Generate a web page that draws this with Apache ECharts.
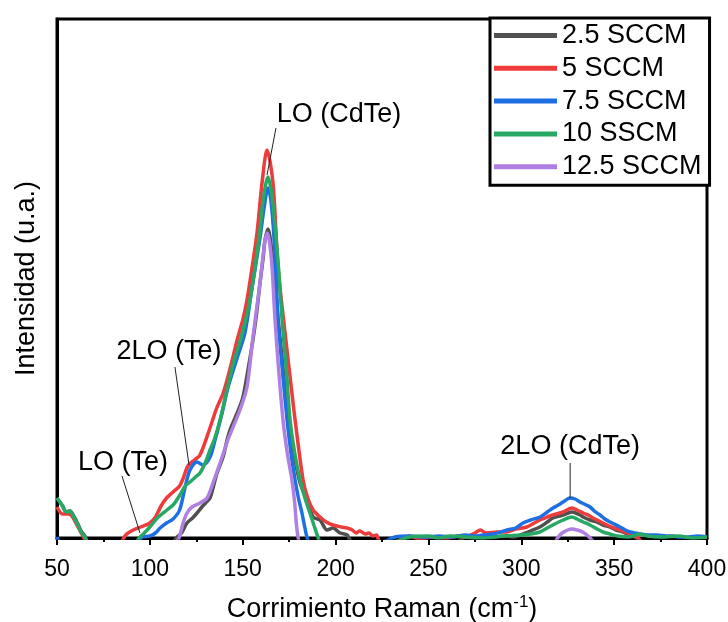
<!DOCTYPE html>
<html><head><meta charset="utf-8">
<script src="https://cdn.jsdelivr.net/npm/echarts@6/dist/echarts.min.js"></script>
<style>html,body{margin:0;padding:0;background:#fff}#c{width:728px;height:622px}</style>
</head><body><div id="c"></div><script>
// ---- data (Raman shift in cm^-1, intensity in arbitrary units) ----
const seriesNames = ['2.5 SCCM', '5 SCCM', '7.5 SCCM', '10 SSCM', '12.5 SCCM'];
const xTicks = [50, 100, 150, 200, 250, 300, 350, 400];

const x25 = [50,53,55,57,59,61,63,65,67,
  112,114.6,117,120,123,125.4,128,130,132.4,134,136.2,139.4,142,144,147,150,153,155.5,157.5,159.3,161,162,163.6,165.8,167.4,169,171.2,173,175.5,178,180.9,184.6,187.9,191.6,195.4,198.6,202.4,206.2,209,
  265,270,275,280,285,292,296,301,305,310,314,317,322.5,327.3,331.6,333.3,337,340.8,344,347.8,351,354.8,358,361,365];
const y25 = [40,32,26,27,22,15,7,2,-4,
  -4,1,5,15,20,25,31,35,40,50,65,81,101,112,125,140,170,198,225,255,280,298,309,285,255,220,180,145,110,80,55,38,21,18,8,10,5,3,-4,
  -4,1,0,2,1,2,1,4,7,11,16,20,23,26,23,21,18,16,13,11,8,6,3,1,-4];

const x5 = [50,53,56,58,61,64,66,
  84,87,90,95,100,103,106,109,112.5,116,118,120.5,124,127,132,136,139.5,143,147,150,152.3,155,157.7,160.4,163.1,166.3,169,172.8,176.5,178.2,182.5,185,187.9,191.6,195,198.6,203,206.2,209,211,213,216,218,220,222,224,
  232,240,245,252,260,266,270,275,278,281,287,292,297,303,307,310,314,317,322.5,327.3,330,333.3,337,338.6,342,346.2,350,353.2,356,358.6,362,365];
const y5 = [31,24,24,22,12,2,-4,
  -4,3,7,11,15,21,32,40,46,52,60,72,78,83,108,130,145,168,198,218,238,270,305,355,388,355,271,205,145,118,58,40,28,21,16,13,11,10,8,5,7,4,5,2,3,-4,
  -4,2,-1,1,0,2,1,5,8,5,6,6,9,11,15,18,21,23,26,30,28,25,22,20,17,13,10,8,6,4,1,-4];

const x75 = [50,52,
  93,96,100,103,105.5,109,112.5,116,119,121.6,125.4,128.6,132.4,135.1,138.9,142,147,151.2,155,159.3,161.5,163.6,165,166.5,168,169,171.5,173.9,176,178.2,180,181.9,183.5,184.6,186,
  225,232,240,248,256,263,270,275,279.4,285,289,292.3,297,300.9,305,310.1,314,317.1,320,322.5,326.3,329,331.6,335,337,340,342.4,345,347.8,350,353.2,356,358.6,361,363.9,368,373.1,378,381.7,385,390,395,400];
const y75 = [1,-4,
  -4,1,2,5,10,15,19,28,51,68,76,73,81,98,125,150,180,205,250,300,330,350,340,310,260,218,165,118,85,58,40,25,10,1,-4,
  -4,1,2,1,2,1,3,2,3,4,6,8,10,15,18,21,26,30,33,36,40,39,36,33,31,26,23,19,16,14,11,8,6,5,4,3,3,2,2,1,1,2,1];

const x10 = [50,53,55,57,59,61,63,65,67,
  92,94.7,97,100,104,109.2,112.5,116.2,119,121.6,124,127,130,132.4,135,137.8,140.5,145,149.1,153.9,158.8,161,163.6,165.5,167.5,169.5,171.2,173.5,175.5,178,180.9,183.5,186.2,188.5,190.5,192,
  230,240,250,255,262,270,280,290,300,305,310,314,317,322.5,327.3,330,333.3,337,340.8,344,347.8,352,358,364,368,375,385,392,400];
const y10 = [40,32,26,27,21,14,6,1,-4,
  -4,1,5,11,20,28,33,43,52,56,60,65,76,88,100,118,140,175,200,238,300,338,361,345,310,265,218,168,118,85,58,40,25,12,1,-4,
  -4,1,2,0,2,1,0,2,3,4,6,10,13,18,21,19,16,13,9,6,4,2,1,4,2,1,2,0,1];

const x125 = [114,115.7,117.9,120,122.7,127,130.8,134,137.8,142,148.5,152.3,155.5,159.3,162,163.3,164.5,165.8,167.4,169.5,171.7,174,176.5,178,178.7,179.8,181,
  318,319.5,322,325,327.3,330,333,336,337.5,339];
const y125 = [-4,0,15,25,31,35,40,55,75,98,128,151,201,255,298,305,295,271,218,165,118,85,58,35,18,1,-4,
  -4,0,5,8,9,8,6,2,-1,-4];

const seriesX = [x25, x5, x75, x10, x125];
const seriesY = [y25, y5, y75, y10, y125];
const seriesColors = ['#505050', '#ee3b3b', '#1d6fe3', '#28a865', '#b07fe2'];

// ---- annotations (data coordinates) ----
const annotations = [
  {text: 'LO (CdTe)',  at: [201.9, 423], line: [[167.9, 410], [163.1, 363]]},
  {text: '2LO (Te)',   at: [110.3, 186], line: [[113.5, 171], [121.1, 73]]},
  {text: 'LO (Te)',    at: [85.5, 75],   line: [[85.0, 62], [94.7, 5]]},
  {text: '2LO (CdTe)', at: [326.3, 91],  line: [[326.3, 75], [326.3, 40]]}
];

const FONT = '"Liberation Sans", Arial, sans-serif';
const chart = echarts.init(document.getElementById('c'), null, {renderer: 'canvas'});

const series = seriesNames.map((name, i) => ({
  name: name,
  type: 'line',
  data: seriesX[i].map((x, j) => [x, seriesY[i][j]]),
  showSymbol: false,
  symbol: 'none',
  smooth: 0.3,
  clip: true,
  lineStyle: {width: 3.5, color: seriesColors[i]},
  itemStyle: {color: seriesColors[i]},
  animation: false,
  z: 2 + i
}));

chart.setOption({
  animation: false,
  backgroundColor: '#fff',
  grid: {left: 57, right: 21, top: 19, bottom: 84, show: true, borderColor: '#000', borderWidth: 3,
    containLabel: false, outerBoundsMode: 'none'},
  legend: {
    orient: 'vertical', left: 490, top: 18,
    icon: 'rect',
    itemWidth: 63, itemHeight: 5, itemGap: 5.8,
    padding: [4, 8, 5, 4],
    borderColor: '#000', borderWidth: 3, backgroundColor: '#fff',
    textStyle: {fontSize: 27, lineHeight: 27, fontFamily: FONT, color: '#000'},
    data: seriesNames, z: 20
  },
  xAxis: {
    type: 'value', min: 50, max: 400, interval: 50,
    axisLine: {show: true, lineStyle: {color: '#000', width: 3}},
    axisTick: {show: true, inside: false, length: 7, lineStyle: {color: '#000', width: 2}},
    minorTick: {show: true, splitNumber: 2, length: 4, lineStyle: {color: '#000', width: 2}},
    splitLine: {show: false},
    axisLabel: {fontSize: 23, fontFamily: FONT, color: '#000', margin: 20,
      formatter: v => xTicks.includes(v) ? String(v) : ''},
    name: '{a|Corrimiento Raman (cm}{s|-1}{a|)}',
    nameLocation: 'middle', nameGap: 56,
    nameTextStyle: {rich: {
      a: {fontSize: 27, fontFamily: FONT, color: '#000'},
      s: {fontSize: 17, fontFamily: FONT, color: '#000', verticalAlign: 'top', padding: [0, 0, 14, 0]}
    }}
  },
  yAxis: {
    type: 'value', min: 0, max: 519,
    axisLine: {show: true, lineStyle: {color: '#000', width: 3}},
    axisTick: {show: false}, axisLabel: {show: false}, splitLine: {show: false},
    name: 'Intensidad (u.a.)', nameLocation: 'middle', nameGap: 17,
    nameTextStyle: {fontSize: 27, fontFamily: FONT, color: '#000'}
  },
  series: series
});

const graphics = [];
annotations.forEach(a => {
  const p = chart.convertToPixel({gridIndex: 0}, a.at);
  const l0 = chart.convertToPixel({gridIndex: 0}, a.line[0]);
  const l1 = chart.convertToPixel({gridIndex: 0}, a.line[1]);
  graphics.push({type: 'line', z: 50, silent: true,
    shape: {x1: l0[0], y1: l0[1], x2: l1[0], y2: l1[1]},
    style: {stroke: '#222', lineWidth: 1}});
  graphics.push({type: 'text', z: 50, silent: true, x: p[0], y: p[1],
    style: {text: a.text, fill: '#000', font: '27px ' + FONT, textAlign: 'center', textVerticalAlign: 'middle'}});
});
chart.setOption({graphic: graphics});
</script></body></html>
